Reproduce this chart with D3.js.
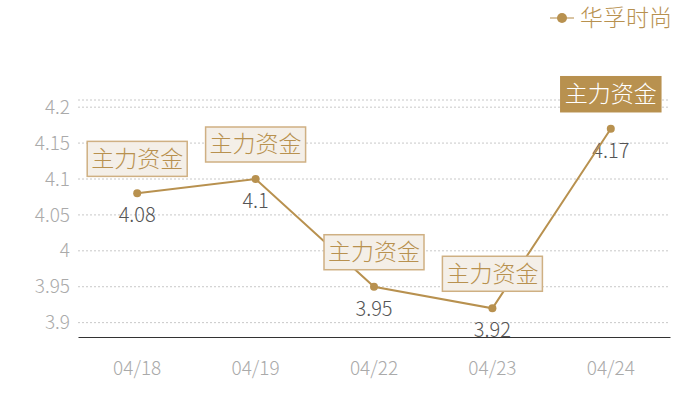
<!DOCTYPE html>
<html lang="zh">
<head>
<meta charset="UTF-8">
<title>华孚时尚</title>
<script src="https://d3js.org/d3.v7.min.js"></script>
<style>
    body { margin: 0; background: #fff; }
    svg text { font-family: "Noto Sans CJK SC", "Noto Sans", sans-serif; }
</style>
</head>
<body>
<svg id="chart" width="700" height="400"></svg>
<script>
    // données du graphique
    const dates = ['04/18', '04/19', '04/22', '04/23', '04/24'];
    const prices = [4.08, 4.1, 3.95, 3.92, 4.17];
    const yTicks = [3.9, 3.95, 4, 4.05, 4.1, 4.15, 4.2];
    const seriesName = '华孚时尚';
    const markText = '主力资金';
    const highlighted = [false, false, false, false, true];

    const gold = '#b8914f';
    const svg = d3.select('#chart');

    const x = d3.scaleBand().domain(dates).range([78, 670]);
    const y = d3.scaleLinear().domain([3.88, 4.21]).range([337, 100]);
    const cx = d => x(d) + x.bandwidth() / 2;

    // grille pointillée
    svg.append('g').selectAll('line')
        .data(yTicks.concat([4.21]))
        .join('line')
        .attr('x1', 78).attr('x2', 670)
        .attr('y1', d => y(d)).attr('y2', d => y(d))
        .attr('stroke', '#c8c8c8')
        .attr('stroke-dasharray', '2,2');

    // axe Y
    svg.append('g').selectAll('text')
        .data(yTicks)
        .join('text')
        .attr('x', 70).attr('y', d => y(d))
        .attr('dy', '0.35em')
        .attr('text-anchor', 'end')
        .attr('fill', '#aaa')
        .attr('font-size', 19)
        .attr('font-weight', 300)
        .text(d => d);

    // axe X
    const xAxis = svg.append('g')
        .attr('transform', 'translate(0,337)')
        .call(d3.axisBottom(x).tickSize(0).tickPadding(25));
    xAxis.select('.domain').attr('stroke', '#333');
    xAxis.selectAll('text')
        .attr('fill', '#aaa')
        .attr('font-size', 19)
        .attr('font-weight', 300);

    // étiquettes de valeur
    svg.append('g').selectAll('text')
        .data(prices)
        .join('text')
        .attr('x', (d, i) => cx(dates[i]))
        .attr('y', d => y(d) + 29)
        .attr('text-anchor', 'middle')
        .attr('fill', '#555')
        .attr('font-size', 20)
        .attr('font-weight', 300)
        .text(d => d);

    // courbe
    const line = d3.line().x((d, i) => cx(dates[i])).y(d => y(d));
    svg.append('path')
        .datum(prices)
        .attr('d', line)
        .attr('fill', 'none')
        .attr('stroke', gold)
        .attr('stroke-width', 2);

    svg.append('g').selectAll('circle')
        .data(prices)
        .join('circle')
        .attr('cx', (d, i) => cx(dates[i]))
        .attr('cy', d => y(d))
        .attr('r', 4)
        .attr('fill', gold);

    // boîtes "主力资金"
    const marks = svg.append('g').selectAll('g')
        .data(prices)
        .join('g')
        .attr('transform', (d, i) => `translate(${cx(dates[i])},${y(d) - 35})`);
    marks.append('rect')
        .attr('x', -50).attr('y', -17)
        .attr('width', 100).attr('height', 35)
        .attr('fill', (d, i) => highlighted[i] ? gold : '#f4efe8')
        .attr('stroke', (d, i) => highlighted[i] ? gold : '#cfb083')
        .attr('stroke-width', 1.5);
    marks.append('text')
        .attr('text-anchor', 'middle')
        .attr('dy', '0.36em')
        .attr('font-size', 23)
        .attr('font-weight', 300)
        .attr('fill', (d, i) => highlighted[i] ? '#fff' : gold)
        .text(markText);

    // légende
    const legend = svg.append('g').attr('transform', 'translate(550,18)');
    legend.append('line').attr('x1', 0).attr('x2', 24)
        .attr('stroke', gold).attr('stroke-width', 1.5).attr('opacity', 0.7);
    legend.append('circle').attr('cx', 12).attr('r', 5).attr('fill', gold);
    legend.append('text')
        .attr('x', 30).attr('dy', '0.36em')
        .attr('font-size', 23)
        .attr('font-weight', 300)
        .attr('fill', gold)
        .text(seriesName);
</script>
</body>
</html>
